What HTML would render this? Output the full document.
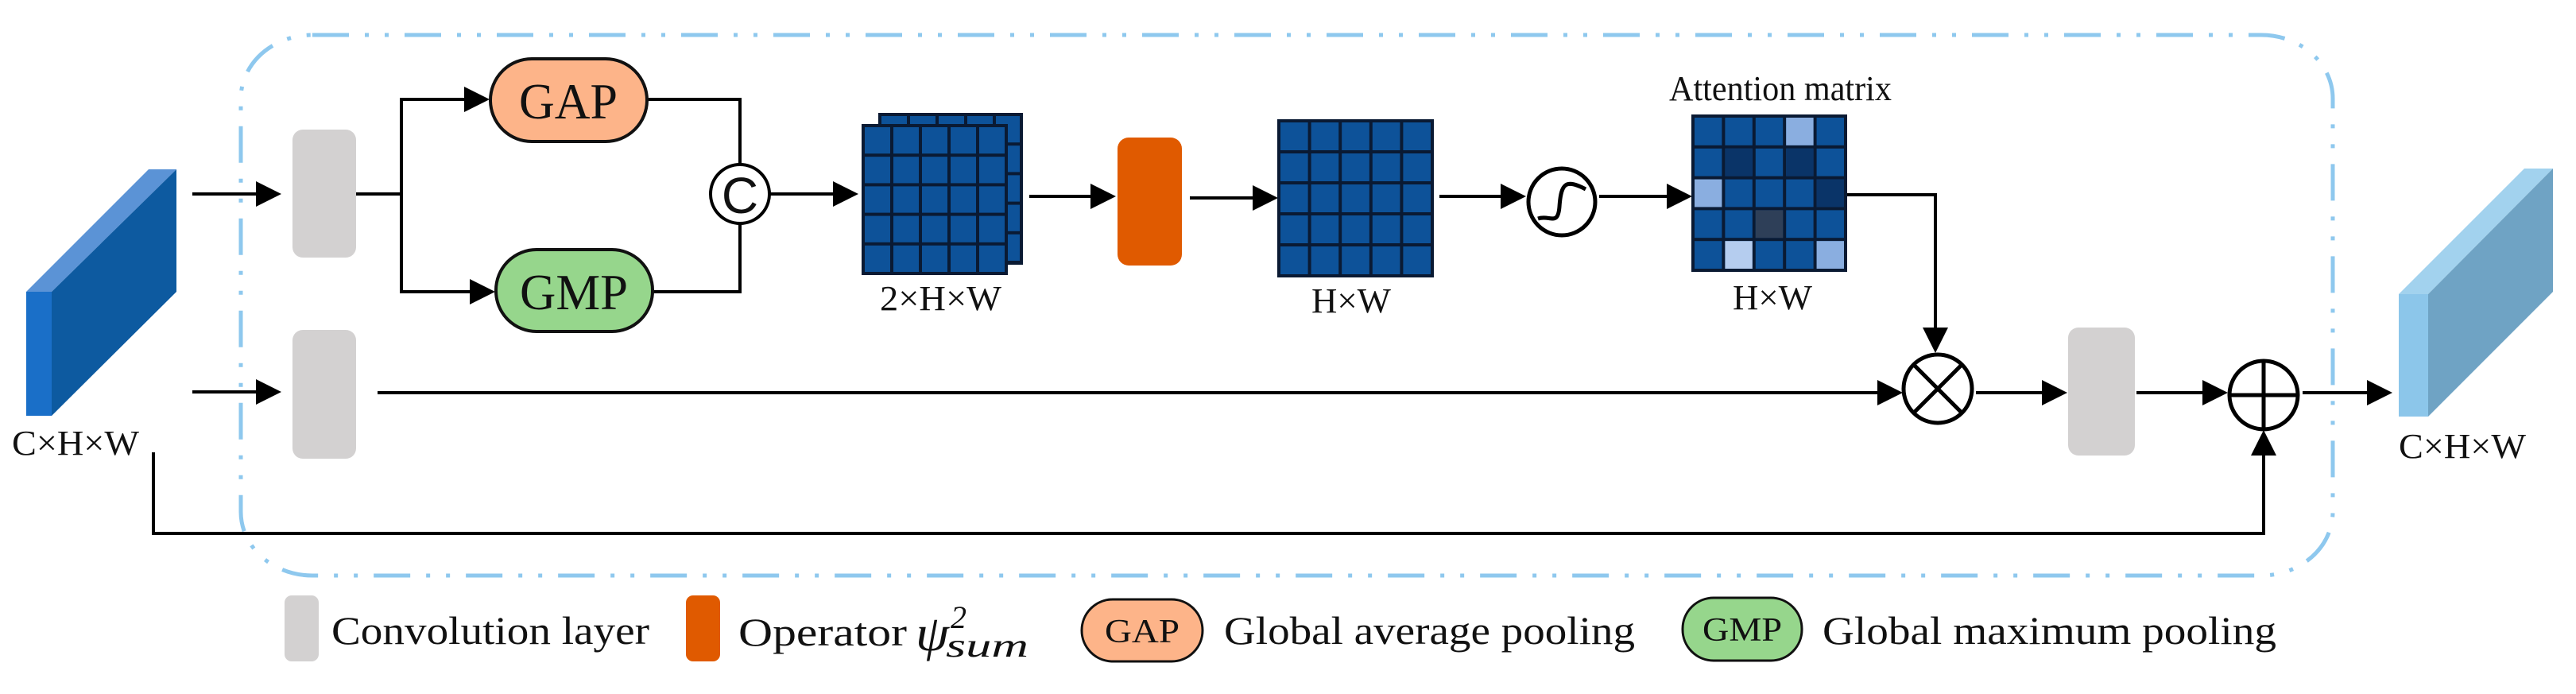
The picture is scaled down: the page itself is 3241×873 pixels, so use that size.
<!DOCTYPE html>
<html><head><meta charset="utf-8"><style>
html,body{margin:0;padding:0;background:#fff;}
svg{display:block}
text{font-family:"Liberation Serif",serif;fill:#111}
</style></head><body>
<svg width="3241" height="873" viewBox="0 0 3241 873" xmlns="http://www.w3.org/2000/svg">
<defs>
<marker id="ah" markerWidth="8" markerHeight="8" refX="7" refY="4" orient="auto" markerUnits="strokeWidth">
<path d="M0,0 L8,4 L0,8 Z" fill="#000"/></marker>
<pattern id="p1" patternUnits="userSpaceOnUse" width="36" height="37.2"><rect width="36" height="37.2" fill="#0a1a33"/><rect x="2" y="2" width="32" height="33.2" fill="#0d5299"/></pattern>
<pattern id="p2" patternUnits="userSpaceOnUse" width="38.6" height="39"><rect width="38.6" height="39" fill="#0a1a33"/><rect x="2" y="2" width="34.6" height="35" fill="#0d5299"/></pattern>
<pattern id="p3" patternUnits="userSpaceOnUse" width="38.4" height="38.8"><rect width="38.4" height="38.8" fill="#0a1a33"/><rect x="2" y="2" width="34.4" height="34.8" fill="#0d5299"/></pattern>
</defs>

<!-- dashed border -->
<rect x="303" y="44" width="2632" height="680" rx="90" ry="80" fill="none" stroke="#8ec8ee" stroke-width="5" stroke-dasharray="46 20 5 20 5 20"/>

<!-- input block -->
<polygon points="33,367 187,213 222,213 65,367" fill="#5b93d6"/>
<polygon points="65,367 222,213 222,367 65,523" fill="#0d5aa0"/>
<rect x="33" y="367" width="32" height="156" fill="#1a6fc8"/>
<text x="15" y="572" font-size="44" textLength="160" lengthAdjust="spacingAndGlyphs">C×H×W</text>

<g stroke="#000" stroke-width="4" fill="none">
<line x1="242" y1="244" x2="350" y2="244" marker-end="url(#ah)"/>
<line x1="242" y1="493" x2="350" y2="493" marker-end="url(#ah)"/>
<polyline points="448,244 505,244"/>
<polyline points="505,244 505,125 612,125" marker-end="url(#ah)"/>
<polyline points="505,244 505,367 619,367" marker-end="url(#ah)"/>
<polyline points="814,125 931,125 931,207"/>
<polyline points="821,367 931,367 931,281"/>
<line x1="968" y1="244" x2="1076" y2="244" marker-end="url(#ah)"/>
<line x1="1295" y1="247" x2="1400" y2="247" marker-end="url(#ah)"/>
<line x1="1497" y1="249" x2="1604" y2="249" marker-end="url(#ah)"/>
<line x1="1811" y1="247" x2="1916" y2="247" marker-end="url(#ah)"/>
<line x1="2012" y1="247" x2="2125" y2="247" marker-end="url(#ah)"/>
<polyline points="2322,245 2435,245 2435,440" marker-end="url(#ah)"/>
<line x1="475" y1="494" x2="2390" y2="494" marker-end="url(#ah)"/>
<line x1="2486" y1="494" x2="2597" y2="494" marker-end="url(#ah)"/>
<line x1="2688" y1="494" x2="2799" y2="494" marker-end="url(#ah)"/>
<line x1="2897" y1="494" x2="3006" y2="494" marker-end="url(#ah)"/>
<polyline points="193,569 193,671 2848,671 2848,545" marker-end="url(#ah)"/>
</g>

<!-- conv layers -->
<rect x="368" y="163" width="80" height="161" rx="13" fill="#d3d1d1"/>
<rect x="368" y="415" width="80" height="162" rx="13" fill="#d3d1d1"/>
<rect x="2602" y="412" width="84" height="161" rx="13" fill="#d3d1d1"/>

<!-- GAP / GMP -->
<rect x="617" y="74" width="197" height="104" rx="52" fill="#fdb489" stroke="#111" stroke-width="4"/>
<text x="715" y="149" font-size="64" text-anchor="middle" textLength="124" lengthAdjust="spacingAndGlyphs">GAP</text>
<rect x="624" y="314" width="197" height="103" rx="51" fill="#96d68c" stroke="#111" stroke-width="4"/>
<text x="722" y="389" font-size="64" text-anchor="middle" textLength="136" lengthAdjust="spacingAndGlyphs">GMP</text>

<!-- concat circle -->
<circle cx="931" cy="244" r="37" fill="#fff" stroke="#000" stroke-width="4"/>
<text x="931" y="268" font-size="64" font-family="Liberation Sans" text-anchor="middle" style="font-family:'Liberation Sans',sans-serif">C</text>

<!-- stack 2xHxW -->
<g transform="translate(1107,144)"><rect width="178" height="187" fill="url(#p1)" stroke="#0a1a33" stroke-width="4"/></g>
<g transform="translate(1086,158)"><rect width="180" height="186" fill="url(#p1)" stroke="#0a1a33" stroke-width="4"/></g>
<text x="1107" y="390" font-size="44" textLength="153" lengthAdjust="spacingAndGlyphs">2×H×W</text>

<!-- operator -->
<rect x="1406" y="173" width="81" height="161" rx="14" fill="#e05a00"/>

<!-- HxW -->
<g transform="translate(1609,152)"><rect width="193" height="195" fill="url(#p2)" stroke="#0a1a33" stroke-width="4"/></g>
<text x="1650" y="393" font-size="44" textLength="100" lengthAdjust="spacingAndGlyphs">H×W</text>

<!-- sigmoid -->
<circle cx="1965" cy="254" r="42" fill="#fff" stroke="#000" stroke-width="5"/>
<path d="M1935,275 C1950,270 1960,285 1962,260 C1964,230 1970,225 1995,238" fill="none" stroke="#000" stroke-width="5"/>

<!-- attention -->
<text x="2100" y="126" font-size="44" textLength="280" lengthAdjust="spacingAndGlyphs">Attention matrix</text>
<g transform="translate(2130,146)">
<rect width="192" height="194" fill="url(#p3)" stroke="#0a1a33" stroke-width="4"/>
<rect x="117.2" y="2" width="34.4" height="34.8" fill="#8aaee0"/>
<rect x="40.4" y="40.8" width="34.4" height="34.8" fill="#0a3468"/>
<rect x="117.2" y="40.8" width="34.4" height="34.8" fill="#0a3468"/>
<rect x="2" y="79.6" width="34.4" height="34.8" fill="#8aaee0"/>
<rect x="155.6" y="79.6" width="34.4" height="34.8" fill="#0a3468"/>
<rect x="78.8" y="118.4" width="34.4" height="34.8" fill="#2e3f58"/>
<rect x="40.4" y="157.2" width="34.4" height="34.8" fill="#b5cdef"/>
<rect x="155.6" y="157.2" width="34.4" height="34.8" fill="#8aaee0"/>
</g>
<text x="2180" y="389" font-size="44" textLength="100" lengthAdjust="spacingAndGlyphs">H×W</text>

<!-- otimes / oplus -->
<g stroke="#000" stroke-width="5" fill="#fff">
<circle cx="2438" cy="489" r="43"/>
<line x1="2408" y1="459" x2="2468" y2="519"/><line x1="2468" y1="459" x2="2408" y2="519"/>
<circle cx="2848" cy="497" r="43"/>
<line x1="2805" y1="497" x2="2891" y2="497"/><line x1="2848" y1="454" x2="2848" y2="540"/>
</g>

<!-- output block -->
<polygon points="3018,370 3176,212 3212,212 3055,370" fill="#a2d2ee"/>
<polygon points="3055,370 3212,212 3212,367 3055,524" fill="#6fa3c4"/>
<rect x="3018" y="370" width="37" height="154" fill="#8cc6ea"/>
<text x="3018" y="576" font-size="44" textLength="160" lengthAdjust="spacingAndGlyphs">C×H×W</text>

<!-- legend -->
<rect x="358" y="749" width="43" height="83" rx="9" fill="#d3d1d1"/>
<text x="417" y="810" font-size="50" textLength="400" lengthAdjust="spacingAndGlyphs">Convolution layer</text>
<rect x="863" y="749" width="43" height="83" rx="9" fill="#e05a00"/>
<text x="929" y="812" font-size="50" textLength="212" lengthAdjust="spacingAndGlyphs">Operator</text>
<text x="1152" y="818" font-size="64" font-style="italic" textLength="42" lengthAdjust="spacingAndGlyphs">ψ</text>
<text x="1196" y="790" font-size="40" font-style="italic">2</text>
<text x="1190" y="826" font-size="42" font-style="italic" textLength="104" lengthAdjust="spacingAndGlyphs">sum</text>
<rect x="1361" y="754" width="152" height="78" rx="39" fill="#fdb489" stroke="#111" stroke-width="3"/>
<text x="1437" y="808" font-size="42" text-anchor="middle" textLength="94" lengthAdjust="spacingAndGlyphs">GAP</text>
<text x="1540" y="810" font-size="50" textLength="517" lengthAdjust="spacingAndGlyphs">Global average pooling</text>
<rect x="2117" y="752" width="150" height="79" rx="39" fill="#96d68c" stroke="#111" stroke-width="3"/>
<text x="2192" y="806" font-size="42" text-anchor="middle" textLength="100" lengthAdjust="spacingAndGlyphs">GMP</text>
<text x="2293" y="810" font-size="50" textLength="571" lengthAdjust="spacingAndGlyphs">Global maximum pooling</text>
</svg>
</body></html>
